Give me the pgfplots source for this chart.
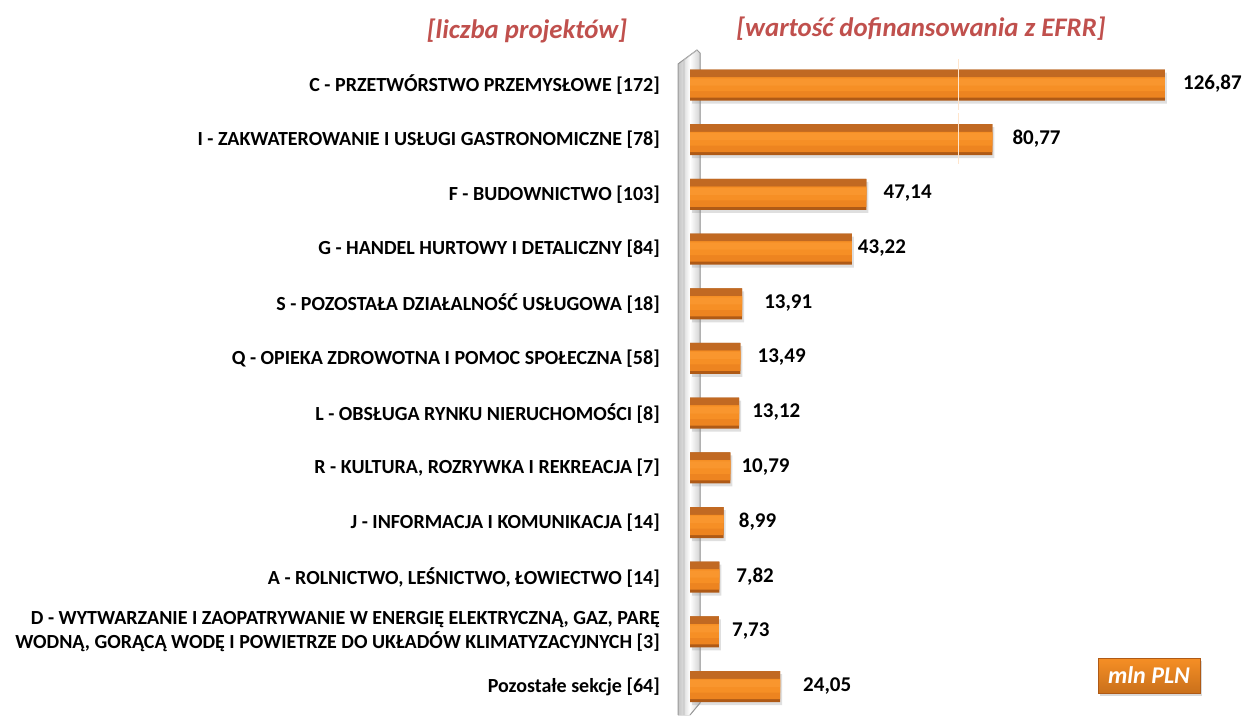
\documentclass[border=0pt]{standalone}
\usepackage{pgfplots}
\pgfplotsset{compat=1.18}
\usepackage{pgfplotstable}
\usepackage{fontspec}
\setmainfont{Carlito}
\usetikzlibrary{shadows}
\definecolor{titlered}{RGB}{192,80,77}
\definecolor{bartop}{RGB}{193,105,34}
\definecolor{barmid}{RGB}{246,143,37}
\definecolor{barmidl}{RGB}{249,150,46}
\definecolor{barbot}{RGB}{175,90,22}
\definecolor{barlow}{RGB}{237,132,32}
\pgfdeclarehorizontalshading{wallshade}{100bp}{color(0bp)=(gray!45); color(25bp)=(gray!45); color(36bp)=(gray!30); color(52bp)=(white); color(75bp)=(gray!35); color(100bp)=(gray!35)}
\pgfplotstableread{
idx val lab dx
0 126.87 126,87 18
1 80.77 80,77 20
2 47.14 47,14 17
3 43.22 43,22 6
4 13.91 13,91 22
5 13.49 13,49 17
6 13.12 13,12 13
7 10.79 10,79 11
8 8.99 8,99 15
9 7.82 7,82 17
10 7.73 7,73 13
11 24.05 24,05 23
}\datatable
\begin{document}
\begin{tikzpicture}[x=1pt,y=1pt]
\path[use as bounding box] (0,0) rectangle (1244,715);
% wall
\fill[shading=wallshade] (678,0) -- (678,651) -- (697,665) -- (700,662) -- (700,12) -- (690,0) -- cycle;
\draw[gray!80, line width=1pt] (678,0) -- (678,651) -- (697,665) -- (700,662) -- (700,12) -- (690,0);
\draw[gray!55, line width=0.6pt] (684,0) -- (684,655) -- (697,665);
\begin{axis}[
  at={(690pt,0pt)}, anchor=south west,
  scale only axis, width=554pt, height=665pt,
  xmin=0, xmax=148, ymin=-0.64, ymax=11.52, y dir=reverse,
  axis line style={draw=none}, xtick=\empty,
  ytick={0,...,11}, major tick length=0pt,
  yticklabels={{C - PRZETWÓRSTWO PRZEMYSŁOWE [172]},{I - ZAKWATEROWANIE I USŁUGI GASTRONOMICZNE [78]},{F - BUDOWNICTWO [103]},{G - HANDEL HURTOWY I DETALICZNY [84]},{S - POZOSTAŁA DZIAŁALNOŚĆ USŁUGOWA [18]},{Q - OPIEKA ZDROWOTNA I POMOC SPOŁECZNA [58]},{L - OBSŁUGA RYNKU NIERUCHOMOŚCI [8]},{R - KULTURA, ROZRYWKA I REKREACJA [7]},{J - INFORMACJA I KOMUNIKACJA [14]},{A - ROLNICTWO, LEŚNICTWO, ŁOWIECTWO [14]},{D - WYTWARZANIE I ZAOPATRYWANIE W ENERGIĘ ELEKTRYCZNĄ, GAZ, PARĘ\\WODNĄ, GORĄCĄ WODĘ I POWIETRZE DO UKŁADÓW KLIMATYZACYJNYCH [3]},{Pozostałe sekcje [64]}},
  yticklabel style={anchor=east, inner sep=0pt, xshift=-30pt, align=right, font=\fontsize{20}{24}\selectfont\bfseries},
  clip=false,
]
\addplot[xbar, bar width=31pt, draw=none, fill=barbot,
  drop shadow={shadow xshift=2pt, shadow yshift=-3pt, opacity=0.25},
  visualization depends on={\thisrow{dx} \as \dx},
  nodes near coords, point meta=explicit symbolic,
  nodes near coords style={anchor=west, inner sep=0pt, xshift=\dx pt, yshift=1pt, text=black, font=\fontsize{21}{24}\selectfont\bfseries}]
  table[x=val, y=idx, meta=lab] {\datatable};
\addplot[xbar, bar width=20.5pt, bar shift=-2.25pt, draw=none, fill=barlow]
  table[x=val, y=idx] {\datatable};
\addplot[xbar, bar width=14pt, bar shift=1pt, draw=none, fill=barmid]
  table[x=val, y=idx] {\datatable};
\addplot[xbar, bar width=7pt, bar shift=3pt, draw=none, fill=barmidl]
  table[x=val, y=idx] {\datatable};
\addplot[xbar, bar width=7.5pt, bar shift=11.75pt, draw=none, fill=bartop]
  table[x=val, y=idx] {\datatable};
\draw[white!80!orange, line width=0.8pt] (axis cs:71.8,-0.48) -- (axis cs:71.8,0.45);
\draw[white!80!orange, line width=0.8pt] (axis cs:71.8,0.52) -- (axis cs:71.8,1.45);
\end{axis}
\node[text=titlered, font=\fontsize{26.8}{30}\selectfont\bfseries\itshape] at (527,684) {[liczba projektów]};
\node[text=titlered, font=\fontsize{26.8}{30}\selectfont\bfseries\itshape] at (921,686) {[wartość dofinansowania z EFRR]};
\node[draw=barbot, top color=barmid, bottom color=barlow!85!black, drop shadow={shadow xshift=2pt, shadow yshift=-3pt, opacity=0.3}, minimum width=102pt, minimum height=35pt, inner sep=0pt, text=white, font=\fontsize{24}{28}\selectfont\bfseries\itshape] at (1149,39.5) {mln PLN};
\end{tikzpicture}
\end{document}
